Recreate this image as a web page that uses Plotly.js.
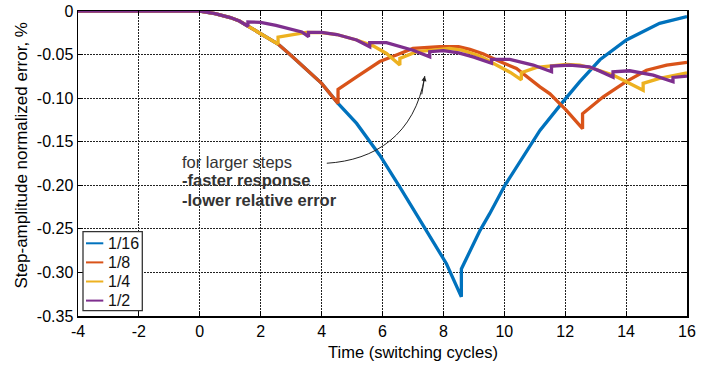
<!DOCTYPE html>
<html>
<head>
<meta charset="utf-8">
<script src="https://cdn.plot.ly/plotly-3.0.1.min.js"></script>
<style>html,body{margin:0;padding:0;background:#fff;}</style>
</head>
<body>
<div id="chart" style="width:721px;height:366px;"></div>
<script>
// Step-amplitude normalized error (%) versus time (switching cycles) for four step sizes

const stepLabels = ['1/16', '1/8', '1/4', '1/2'];
const lineColors = ['#0072BD', '#D95319', '#EDB120', '#7E2F8E'];

// step 1/16
const t16 = [-4, 0, 0.5, 1.0, 1.3, 1.58, 2.0, 2.57, 3.0, 3.5, 4.0, 4.54, 5.15, 5.91, 6.57, 7.44, 8.1, 8.59,
             8.59, 9.2, 9.52, 10.02, 11.17, 11.93, 12.48, 13.14, 14.01, 15.1, 16];
const e16 = [0, 0, -0.003, -0.0075, -0.0115, -0.0175, -0.0256, -0.038, -0.051, -0.0665, -0.083, -0.106, -0.129, -0.1655, -0.202, -0.252, -0.29, -0.328,
             -0.296, -0.252, -0.2326, -0.200, -0.137, -0.104, -0.081, -0.056, -0.0333, -0.0142, -0.0065];

// step 1/8
const t8 = [-4, 0, 0.5, 1.0, 1.3, 1.58, 2.0, 2.57, 3.0, 3.5, 4.0, 4.54,
            4.54, 5.15, 5.91, 6.5, 7.0, 7.88, 8.5, 8.87, 9.3, 9.85, 10.4, 11.17, 11.5, 12.04, 12.57,
            12.57, 13.25, 14.0, 14.67, 15.33, 16];
const e8 = [0, 0, -0.003, -0.0075, -0.0115, -0.0175, -0.0256, -0.038, -0.051, -0.0665, -0.083, -0.106,
            -0.090, -0.0755, -0.058, -0.050, -0.043, -0.041, -0.041, -0.044, -0.049, -0.058, -0.066, -0.087, -0.095, -0.114, -0.135,
            -0.118, -0.0985, -0.081, -0.068, -0.062, -0.059];

// step 1/4
const t4 = [-4, 0, 0.5, 1.0, 1.3, 1.58, 2.0, 2.57,
            2.57, 3.0, 3.5, 4.0, 4.5, 5.15, 5.69, 6.13, 6.57,
            6.57, 7.12, 7.66, 8.2, 8.6, 9.2, 9.74, 10.2, 10.56,
            10.56, 11.06, 11.6, 12.04, 12.48, 12.92, 13.57, 14.12, 14.56,
            14.56, 15.1, 16];
const e4 = [0, 0, -0.003, -0.0075, -0.0115, -0.0175, -0.0256, -0.038,
            -0.030, -0.0277, -0.0245, -0.0248, -0.027, -0.0333, -0.040, -0.0487, -0.062,
            -0.0544, -0.0467, -0.0448, -0.043, -0.045, -0.0517, -0.062, -0.0705, -0.079,
            -0.0709, -0.0648, -0.063, -0.0613, -0.062, -0.066, -0.0736, -0.083, -0.091,
            -0.083, -0.0774, -0.0709];

// step 1/2
const t2 = [-4, 0, 0.5, 1.0, 1.3, 1.58,
            1.58, 2.0, 2.5, 3.0, 3.35, 3.57,
            3.57, 4.0, 4.5, 5.15, 5.58,
            5.58, 6.13, 7.0, 7.55,
            7.55, 8.0, 8.5, 9.0, 9.58,
            9.58, 10.18, 10.95, 11.55,
            11.55, 12.15, 12.8, 13.14, 13.57,
            13.57, 14.12, 14.89, 15.54,
            15.54, 16];
const e2 = [0, 0, -0.003, -0.0075, -0.0115, -0.0175,
            -0.0125, -0.013, -0.0165, -0.0205, -0.024, -0.0295,
            -0.0245, -0.0245, -0.027, -0.0333, -0.041,
            -0.0364, -0.0364, -0.045, -0.0525,
            -0.0467, -0.0455, -0.048, -0.053, -0.060,
            -0.0555, -0.0555, -0.062, -0.0697,
            -0.0632, -0.062, -0.064, -0.069, -0.076,
            -0.0697, -0.0686, -0.0736, -0.0812,
            -0.0762, -0.0747];

const xTicks = [-4, -2, 0, 2, 4, 6, 8, 10, 12, 14, 16];
const yTicks = [0, -0.05, -0.10, -0.15, -0.20, -0.25, -0.30, -0.35];
const yTickText = ['0', '-0.05', '-0.10', '-0.15', '-0.20', '-0.25', '-0.30', '-0.35'];

const seriesX = [t16, t8, t4, t2];
const seriesY = [e16, e8, e4, e2];

const traces = stepLabels.map((name, i) => ({
  x: seriesX[i],
  y: seriesY[i],
  name: name,
  type: 'scatter',
  mode: 'lines',
  line: { color: lineColors[i], width: 3.3 },
  hoverinfo: 'x+y+name',
  showlegend: false
}));

const font = 'Liberation Sans, Arial, Helvetica, sans-serif';
const axisCommon = {
  showline: true,
  linecolor: '#000',
  linewidth: 1.5,
  mirror: 'ticks',
  ticks: 'inside',
  ticklen: 5,
  tickwidth: 1,
  tickcolor: '#000',
  showgrid: true,
  gridcolor: '#222',
  gridwidth: 1,
  griddash: '2px,1px',
  zeroline: false,
  tickfont: { family: font, size: 16, color: '#000' }
};

// Plot-area geometry, used to place the boxed key in paper units
const plotLeft = 78, plotWidth = 609, plotBottom = 316, plotHeight = 305;
const px2x = px => (px - plotLeft) / plotWidth;
const px2y = py => (plotBottom - py) / plotHeight;

const keyTop = 243.3, keyStep = 19.1;
const keyShapes = [{
  type: 'rect', xref: 'paper', yref: 'paper', layer: 'above',
  x0: px2x(83), x1: px2x(142.3), y0: px2y(310.7), y1: px2y(231.7),
  fillcolor: '#fff', line: { color: '#333', width: 1.3 }
}].concat(stepLabels.map((name, i) => ({
  type: 'line', xref: 'paper', yref: 'paper', layer: 'above',
  x0: px2x(86), x1: px2x(103.3),
  y0: px2y(keyTop + i * keyStep), y1: px2y(keyTop + i * keyStep),
  line: { color: lineColors[i], width: 2 }
})));
const keyLabels = stepLabels.map((name, i) => ({
  xref: 'paper', yref: 'paper', x: px2x(105.5), y: px2y(keyTop + i * keyStep),
  xanchor: 'left', yanchor: 'middle', showarrow: false,
  text: name, font: { family: font, size: 16, color: '#111' }
}));

const layout = {
  width: 721,
  height: 366,
  margin: { l: 78, r: 34, t: 11, b: 50 },
  paper_bgcolor: '#fff',
  plot_bgcolor: '#fff',
  showlegend: false,
  xaxis: Object.assign({}, axisCommon, {
    range: [-4, 16],
    tickmode: 'array',
    tickvals: xTicks,
    ticktext: xTicks.map(String)
  }),
  yaxis: Object.assign({}, axisCommon, {
    range: [-0.35, 0],
    tickmode: 'array',
    tickvals: yTicks,
    ticktext: yTickText
  }),
  shapes: [{
    type: 'path',
    xref: 'x', yref: 'y',
    path: 'M 4.171,-0.1747 C 5.747,-0.1713 7.061,-0.1425 7.389,-0.0747',
    line: { color: '#222', width: 1 }
  }].concat(keyShapes),
  annotations: [
    { xref: 'x', yref: 'y', x: 7.389, y: -0.0747, ax: -3.3, ay: 19.7,
      showarrow: true, arrowhead: 2, arrowsize: 1, arrowwidth: 1, arrowcolor: '#222', text: '' },
    { xref: 'x', yref: 'y', x: -0.66, y: -0.1732, xanchor: 'left', yanchor: 'middle', showarrow: false,
      text: 'for larger steps', font: { family: font, size: 16.5, color: '#333' } },
    { xref: 'x', yref: 'y', x: -0.66, y: -0.194, xanchor: 'left', yanchor: 'middle', showarrow: false,
      text: '<b>-faster response</b>', font: { family: font, size: 16.5, color: '#333' } },
    { xref: 'x', yref: 'y', x: -0.66, y: -0.217, xanchor: 'left', yanchor: 'middle', showarrow: false,
      text: '<b>-lower relative error</b>', font: { family: font, size: 16.5, color: '#333' } },
    { xref: 'paper', yref: 'paper', x: px2x(413), y: px2y(352), xanchor: 'center', yanchor: 'middle', showarrow: false,
      text: 'Time (switching cycles)', font: { family: font, size: 16.5, color: '#000' } },
    { xref: 'paper', yref: 'paper', x: px2x(21), y: px2y(155.5), xanchor: 'center', yanchor: 'middle', showarrow: false,
      textangle: -90, text: 'Step-amplitude normalized error, %', font: { family: font, size: 17, color: '#000' } }
  ].concat(keyLabels)
};

Plotly.newPlot('chart', traces, layout, { displayModeBar: false, staticPlot: true });
</script>
</body>
</html>
